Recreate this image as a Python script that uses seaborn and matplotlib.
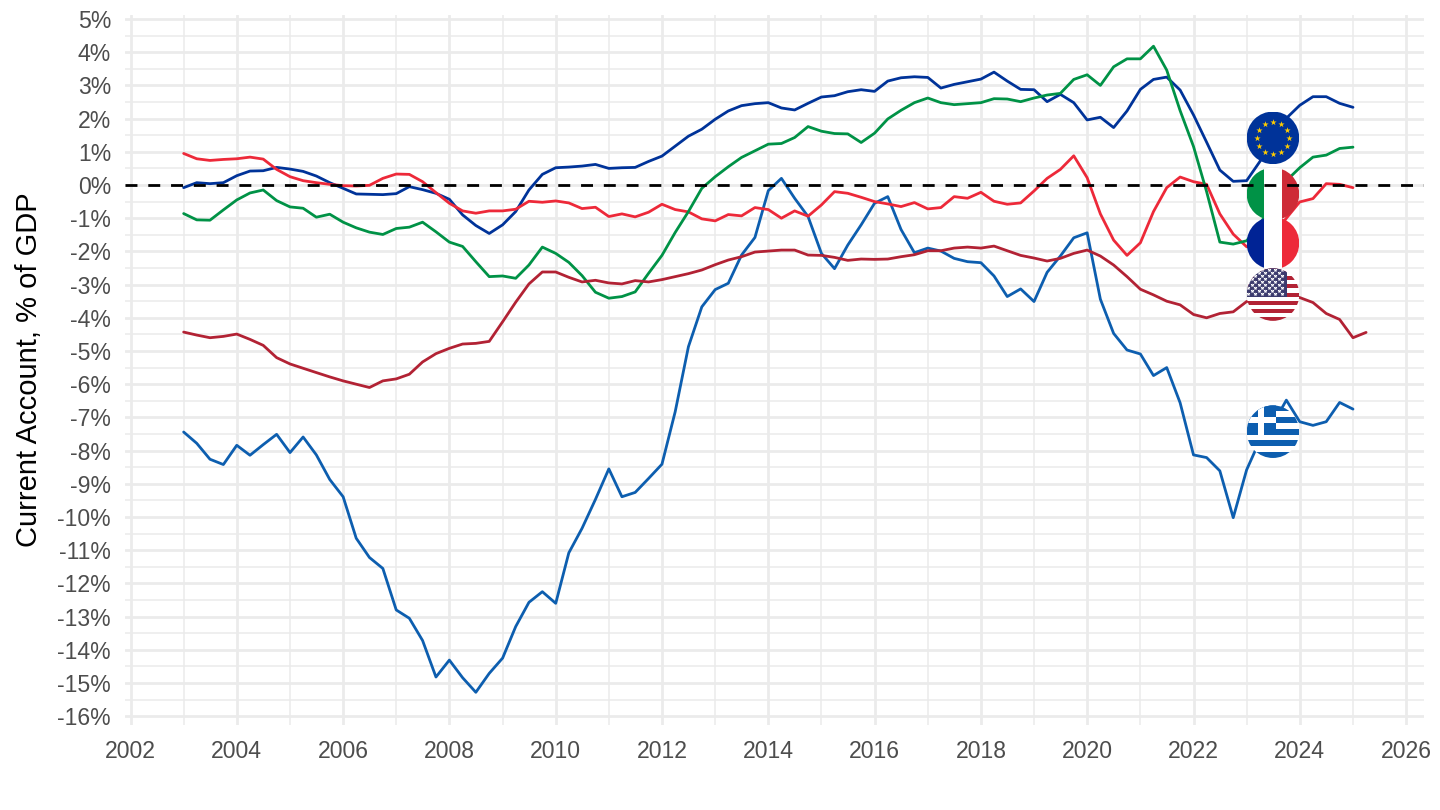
import matplotlib
matplotlib.use('Agg')
import matplotlib.dates as mdates
import matplotlib.pyplot as plt
import numpy as np
import pandas as pd
import seaborn as sns
from matplotlib.patches import Circle, Rectangle

# Quarterly current account, % of GDP (2003Q1 onwards)
euro_area = [-.08, .07, .04, .07, .28, .42, .43, .53, .48, .41, .27, .07, -.10, -.27, -.28, -.29, -.26, -.05, -.14, -.25, -.43, -.90, -1.22, -1.46,
             -1.20, -.80, -.15, .32, .52, .54, .57, .62, .50, .52, .53, .71, .87, 1.17, 1.47, 1.68, 1.98, 2.23, 2.39, 2.45, 2.48, 2.32, 2.26, 2.46,
             2.65, 2.69, 2.81, 2.87, 2.82, 3.13, 3.23, 3.26, 3.24, 2.92, 3.03, 3.11, 3.19, 3.40, 3.13, 2.88, 2.87, 2.51, 2.73, 2.48,
             1.96, 2.04, 1.73, 2.23, 2.88, 3.18, 3.25, 2.86, 2.11, 1.29, .45, .11, .13, .70, 1.35, 2.01, 2.40, 2.66, 2.66, 2.46, 2.34]
greece = [-7.44, -7.78, -8.26, -8.42, -7.84, -8.14, -7.82, -7.51, -8.06, -7.59, -8.13, -8.87, -9.39, -10.64, -11.22, -11.55, -12.80, -13.05, -13.72, -14.82, -14.31, -14.84, -15.28, -14.71,
          -14.25, -13.3, -12.57, -12.25, -12.6, -11.08, -10.34, -9.47, -8.55, -9.39, -9.26, -8.84, -8.41, -6.83, -4.87, -3.67, -3.15, -2.96, -2.11, -1.58, -.17, .20, -.40, -.95,
          -2.06, -2.52, -1.81, -1.2, -.55, -.35, -1.34, -2.04, -1.90, -1.99, -2.21, -2.31, -2.34, -2.74, -3.36, -3.13, -3.51, -2.63, -2.14, -1.59,
          -1.44, -3.44, -4.47, -4.97, -5.09, -5.74, -5.50, -6.56, -8.13, -8.21, -8.61, -10.02, -8.58, -7.7, -7.2, -6.48, -7.13, -7.24, -7.13, -6.55, -6.75]
france = [.95, .79, .74, .77, .79, .84, .78, .47, .25, .13, .07, .02, -.02, -.03, -.01, .20, .33, .32, .10, -.23, -.55, -.78, -.85, -.78,
          -.78, -.73, -.49, -.52, -.48, -.54, -.71, -.67, -.95, -.87, -.96, -.82, -.58, -.74, -.81, -1.02, -1.08, -.89, -.93, -.68, -.74, -1.0, -.78, -.94,
          -.60, -.20, -.25, -.37, -.50, -.57, -.65, -.53, -.72, -.68, -.35, -.40, -.22, -.49, -.58, -.54, -.18, .20, .47, .88,
          .22, -.87, -1.66, -2.12, -1.74, -.80, -.08, .24, .10, .02, -.87, -1.48, -1.86, -1.85, -1.5, -1.0, -.51, -.41, .04, .02, -.08]
italy = [-.86, -1.05, -1.06, -.75, -.45, -.24, -.15, -.47, -.66, -.70, -.97, -.88, -1.12, -1.29, -1.42, -1.49, -1.31, -1.27, -1.12, -1.41, -1.72, -1.85, -2.31, -2.76,
         -2.74, -2.81, -2.41, -1.87, -2.06, -2.33, -2.73, -3.23, -3.41, -3.36, -3.22, -2.66, -2.12, -1.43, -.80, -.10, .25, .55, .83, 1.03, 1.23, 1.25, 1.43, 1.76,
         1.62, 1.55, 1.54, 1.28, 1.56, 1.99, 2.25, 2.48, 2.62, 2.48, 2.42, 2.45, 2.48, 2.60, 2.59, 2.51, 2.62, 2.71, 2.76, 3.18,
         3.32, 3.00, 3.56, 3.80, 3.80, 4.18, 3.46, 2.24, 1.16, -.20, -1.72, -1.78, -1.68, -1.2, -.5, .13, .52, .84, .90, 1.10, 1.14]
united_states = [-4.43, -4.52, -4.60, -4.56, -4.49, -4.65, -4.83, -5.20, -5.39, -5.52, -5.65, -5.78, -5.90, -6.0, -6.10, -5.90, -5.84, -5.70, -5.33, -5.08, -4.92, -4.79, -4.77, -4.71,
                 -4.12, -3.53, -2.98, -2.62, -2.62, -2.78, -2.92, -2.87, -2.95, -2.98, -2.88, -2.92, -2.85, -2.76, -2.67, -2.56, -2.40, -2.26, -2.16, -2.02, -1.99, -1.96, -1.96, -2.11,
                 -2.12, -2.18, -2.27, -2.23, -2.24, -2.23, -2.16, -2.10, -1.98, -1.98, -1.90, -1.87, -1.90, -1.84, -1.98, -2.12, -2.20, -2.29, -2.21, -2.06,
                 -1.96, -2.14, -2.41, -2.76, -3.14, -3.31, -3.50, -3.61, -3.90, -4.0, -3.87, -3.82, -3.51, -3.45, -3.3, -3.3, -3.39, -3.54, -3.87, -4.05, -4.60, -4.44]

names = ['Euro area', 'Greece', 'France', 'Italy', 'United States']
series = [euro_area, greece, france, italy, united_states]
colors = ['#003399', '#0D5EAF', '#ED2939', '#009246', '#B22234']

year_ticks = list(range(2002, 2027, 2))
minor_years = list(range(2003, 2026, 2))
pct_ticks = list(range(-16, 6))
flag_date = '2023-07-01'
flag_levels = {'eu': 1.42, 'it': -.27, 'fr': -1.75, 'us': -3.3, 'gr': -7.43}

# Long table for seaborn
frames = []
for name, vals in zip(names, series):
    dates = pd.date_range('2003-01-01', periods=len(vals), freq='QS')
    frames.append(pd.DataFrame({'date': dates, 'country': name, 'value': vals}))
df = pd.concat(frames, ignore_index=True)

sns.set_style('white')
plt.rcParams['font.family'] = ['Liberation Sans', 'DejaVu Sans']

fig = plt.figure(figsize=(14.4, 8.1), dpi=100)
ax = fig.add_axes([125 / 1440, 1 - 725 / 810, 1299 / 1440, 710 / 810])

sns.lineplot(data=df, x='date', y='value', hue='country', hue_order=names,
             palette=dict(zip(names, colors)), linewidth=2.0, legend=False,
             estimator=None, ax=ax, zorder=2)

# dashed zero line sits above the flags
ax.axhline(0, color='black', linewidth=2.0, dashes=(4.3, 3.9),
           dash_capstyle='butt', zorder=6)

ax.set_xlim(pd.Timestamp('2001-11-24'), pd.Timestamp('2026-05-04'))
ax.set_ylim((185 - 725) / 33.2, (185 - 15) / 33.2)
ax.set_xticks([pd.Timestamp(f'{y}-01-01') for y in year_ticks])
ax.set_xticklabels([str(y) for y in year_ticks])
ax.set_xticks([pd.Timestamp(f'{y}-01-01') for y in minor_years], minor=True)
ax.set_yticks(pct_ticks)
ax.set_yticklabels([f'{v}%' for v in pct_ticks])
ax.set_yticks([v + .5 for v in pct_ticks[:-1]], minor=True)

ax.grid(which='major', color='#EBEBEB', linewidth=2.0)
ax.grid(which='minor', color='#EBEBEB', linewidth=1.1)
ax.set_axisbelow(True)
ax.tick_params(which='both', length=0)
ax.tick_params(axis='both', which='major', labelsize=16.6, labelcolor='#4D4D4D')
ax.tick_params(axis='x', pad=11)
ax.tick_params(axis='y', pad=10)
ax.set_xlabel('')
ax.set_ylabel('Current Account, % of GDP', fontsize=21, color='black', labelpad=10)
sns.despine(ax=ax, left=True, bottom=True)


def band(fa, clip, x0, y0, w, h, color):
    r = Rectangle((x0, y0), w, h, facecolor=color, edgecolor='none')
    fa.add_patch(r)
    r.set_clip_path(clip)


def make_flag(level):
    # flag is about 52 px wide on a 53.15 px/year, 33.2 px/% axis
    w = 2 * 26.3 / 53.15 * 365.25
    h = 2 * 26.3 / 33.2
    x0 = mdates.date2num(pd.Timestamp(flag_date)) - w / 2
    fa = ax.inset_axes([x0, level - h / 2, w, h], transform=ax.transData)
    fa.set_xlim(-1, 1)
    fa.set_ylim(-1, 1)
    fa.set_axis_off()
    clip = Circle((0, 0), 1, transform=fa.transData)
    return fa, clip


# Euro area
fa, clip = make_flag(flag_levels['eu'])
band(fa, clip, -1, -1, 2, 2, '#003399')
ang = np.deg2rad(np.arange(0, 360, 30))
fa.scatter(.62 * np.cos(ang), .62 * np.sin(ang), marker='*', s=22, color='#FFCC00', linewidths=0)

# Italy
fa, clip = make_flag(flag_levels['it'])
band(fa, clip, -1, -1, .67, 2, '#009246')
band(fa, clip, -.33, -1, .66, 2, 'white')
band(fa, clip, .33, -1, .67, 2, '#CE2B37')

# France
fa, clip = make_flag(flag_levels['fr'])
band(fa, clip, -1, -1, .67, 2, '#002395')
band(fa, clip, -.33, -1, .66, 2, 'white')
band(fa, clip, .33, -1, .67, 2, '#ED2939')

# United States
fa, clip = make_flag(flag_levels['us'])
for i in range(13):
    band(fa, clip, -1, 1 - (i + 1) * 2 / 13, 2, 2 / 13, '#B22234' if i % 2 == 0 else 'white')
band(fa, clip, -1, 1 - 14 / 13, 1.52, 14 / 13, '#3C3B6E')
sx, sy = [], []
for row in range(9):
    n = 6 if row % 2 == 0 else 5
    off = 0 if row % 2 == 0 else .127
    for c in range(n):
        sx.append(-.93 + off + c * .254)
        sy.append(.95 - row * .115)
stars = fa.scatter(sx, sy, marker='*', s=9, color='white', linewidths=0)
stars.set_clip_path(clip)

# Greece
fa, clip = make_flag(flag_levels['gr'])
for i in range(9):
    band(fa, clip, -1, 1 - (i + 1) * 2 / 9, 2, 2 / 9, '#0D5EAF' if i % 2 == 0 else 'white')
band(fa, clip, -1, 1 - 10 / 9, 10 / 9, 10 / 9, '#0D5EAF')
band(fa, clip, -1, 1 - 6 / 9, 10 / 9, 2 / 9, 'white')
band(fa, clip, -1 + 4 / 9, 1 - 10 / 9, 2 / 9, 10 / 9, 'white')

fig.savefig('out.png', dpi=100, facecolor='white')
